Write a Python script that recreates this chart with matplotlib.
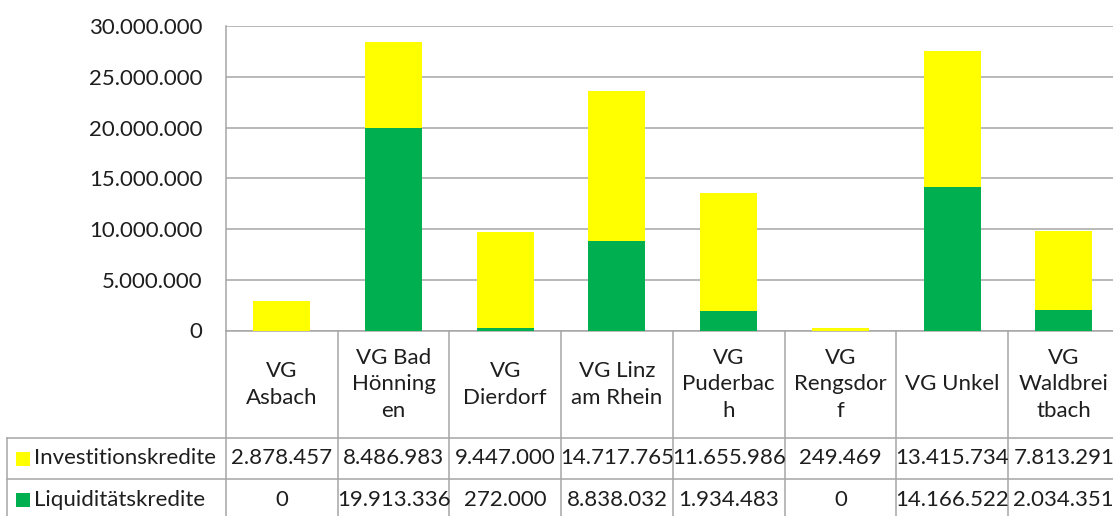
import matplotlib
matplotlib.use("Agg")
import matplotlib.pyplot as plt
from matplotlib.lines import Line2D
from matplotlib.patches import Rectangle
from matplotlib.ticker import FuncFormatter, MultipleLocator
import matplotlib.transforms as mtransforms

# ---- data ----
categories = ["VG\nAsbach", "VG Bad\nHönning\nen", "VG\nDierdorf", "VG Linz\nam Rhein",
              "VG\nPuderbac\nh", "VG\nRengsdor\nf", "VG Unkel", "VG\nWaldbrei\ntbach"]
investitionskredite = [2878457, 8486983, 9447000, 14717765, 11655986, 249469, 13415734, 7813291]
liquiditaetskredite = [0, 19913336, 272000, 8838032, 1934483, 0, 14166522, 2034351]
series_names = ["Investitionskredite", "Liquiditätskredite"]

# ---- style ----
YELLOW = "#FFFF00"
GREEN = "#00B050"
GRID = "#A6A6A6"
TXT = "#1E1E1E"
FONT = "Lato"
FS = 16

W, H = 1113, 516
fig = plt.figure(figsize=(W / 100, H / 100), dpi=100)
plt.rcParams["font.family"] = [FONT, "DejaVu Sans"]

def fy(ypx):
    return 1 - ypx / H

def fx(xpx):
    return xpx / W

ax_left, ax_right = 226, 1119.6
ax_top, ax_bot = 26, 330.5
ax = fig.add_axes([fx(ax_left), fy(ax_bot), (ax_right - ax_left) / W, (ax_bot - ax_top) / H])

n = len(categories)
xs = list(range(n))
ax.bar(xs, liquiditaetskredite, width=0.51, color=GREEN, zorder=3, linewidth=0)
ax.bar(xs, investitionskredite, width=0.51, bottom=liquiditaetskredite, color=YELLOW,
       zorder=3, linewidth=0)

ax.set_xlim(-0.5, n - 0.5)
ax.set_ylim(0, 30000000)
ax.yaxis.set_major_locator(MultipleLocator(5000000))
ax.yaxis.set_major_formatter(FuncFormatter(lambda v, p: f"{int(round(v)):,}".replace(",", ".")))
ax.yaxis.grid(True, color=GRID, linewidth=1.1, zorder=0)
ax.set_axisbelow(True)
ax.set_xticks([])
ax.tick_params(axis="y", length=0, pad=17, labelsize=FS, labelcolor=TXT)
for s in ["top", "right"]:
    ax.spines[s].set_visible(False)
for s in ["left", "bottom"]:
    ax.spines[s].set_color(GRID)
    ax.spines[s].set_linewidth(1.1)

# ---- data table ----
tr = mtransforms.blended_transform_factory(ax.transData, fig.transFigure)
header_bot = 438
row1_bot = 479
row2_bot = 520
left_px = 7

def hline(ypx, x0px, x1px):
    fig.add_artist(Line2D([fx(x0px), fx(x1px)], [fy(ypx), fy(ypx)], color=GRID, lw=1.1,
                          transform=fig.transFigure))

# vertical column borders
for i in range(n + 1):
    fig.add_artist(Line2D([i - 0.5, i - 0.5], [fy(ax_bot), fy(row2_bot)], color=GRID, lw=1.1,
                          transform=tr))
# left border of legend column
fig.add_artist(Line2D([fx(left_px), fx(left_px)], [fy(header_bot), fy(row2_bot)], color=GRID,
                      lw=1.1, transform=fig.transFigure))
hline(header_bot, left_px, W + 20)
hline(row1_bot, left_px, W + 20)
hline(row2_bot, left_px, W + 20)

# header labels
for i, c in enumerate(categories):
    fig.text(i, fy((ax_bot + header_bot) / 2), c, transform=tr, ha="center", va="center",
             fontsize=FS, color=TXT, linespacing=1.42, multialignment="center")

def fmt(v):
    return f"{int(v):,}".replace(",", ".")

rows = [(investitionskredite, YELLOW, (header_bot + row1_bot) / 2),
        (liquiditaetskredite, GREEN, (row1_bot + row2_bot) / 2)]
for (vals, col, yc), name in zip(rows, series_names):
    fig.add_artist(Rectangle((fx(16), fy(yc + 7)), 13.5 / W, 14 / H, facecolor=col,
                             edgecolor="none", transform=fig.transFigure))
    fig.text(fx(34), fy(yc), name, ha="left", va="center", fontsize=FS, color=TXT)
    for i, v in enumerate(vals):
        fig.text(i, fy(yc), fmt(v), transform=tr, ha="center", va="center", fontsize=FS,
                 color=TXT)

fig.savefig("out.png", dpi=100)
